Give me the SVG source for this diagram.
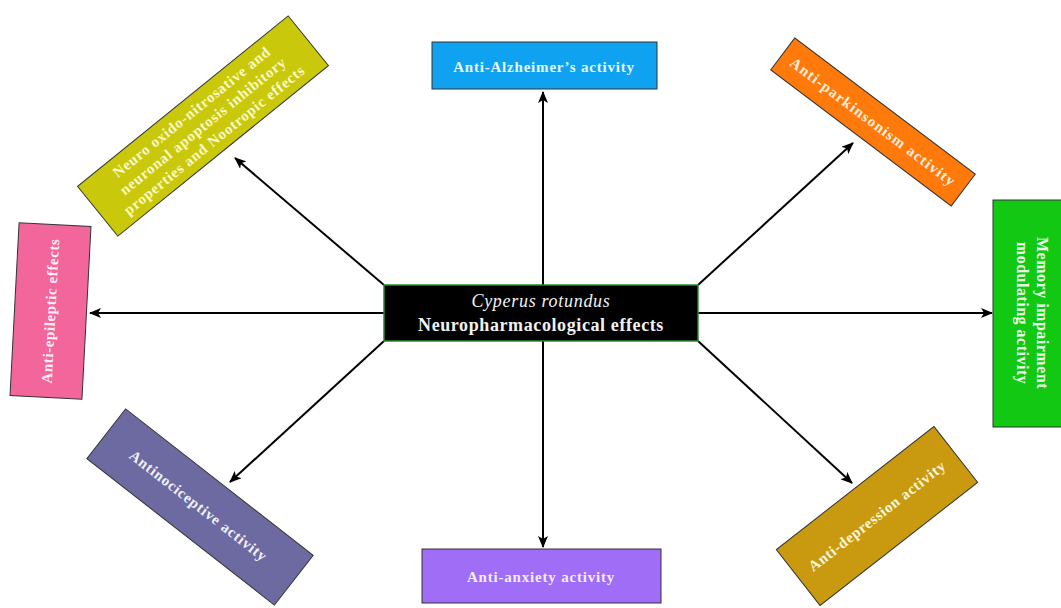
<svg xmlns="http://www.w3.org/2000/svg" width="1061" height="608" viewBox="0 0 1061 608">
<defs>
<marker id="ah" markerUnits="userSpaceOnUse" markerWidth="12" markerHeight="10" refX="11" refY="5" orient="auto">
<path d="M0,0 L12,5 L0,10 L3,5 Z" fill="#000"/>
</marker>
<style>
.box{stroke:#333;stroke-width:1}
.t{font-family:"Liberation Serif","Times New Roman",serif;font-weight:bold;font-size:15px;fill:#fff;text-anchor:middle;letter-spacing:0.8px}
.c{stroke:#000;stroke-width:2;fill:none;marker-end:url(#ah)}
</style>
</defs>
<rect width="1061" height="608" fill="#fff"/>
<g id="connectors">
<line class="c" x1="543" y1="285" x2="543" y2="92"/>
<line class="c" x1="543" y1="341" x2="543" y2="547"/>
<line class="c" x1="698" y1="313" x2="992" y2="313"/>
<line class="c" x1="384" y1="313" x2="90" y2="313"/>
<line class="c" x1="384" y1="285" x2="235" y2="158"/>
<line class="c" x1="698" y1="285" x2="853" y2="143"/>
<line class="c" x1="384" y1="341" x2="230" y2="482"/>
<line class="c" x1="698" y1="341" x2="852" y2="483"/>
</g>
<g id="center">
<rect x="384" y="285" width="314" height="56" fill="#000" stroke="#2a8a2a" stroke-width="1.5"/>
<text x="541" y="307" class="t" style="font-size:18px;font-weight:normal;font-style:italic;fill:#f2f2f2;letter-spacing:0.7px">Cyperus rotundus</text>
<text x="541" y="331" class="t" style="font-size:18px;fill:#f2f2f2;letter-spacing:0.6px">Neuropharmacological effects</text>
</g>
<g id="alzheimer">
<rect class="box" x="432" y="42" width="225" height="47" fill="#0ea2f0"/>
<text x="544" y="72" class="t" style="fill:#e8f6ff">Anti-Alzheimer’s activity</text>
</g>
<g id="anxiety">
<rect class="box" x="422" y="549" width="239" height="54" fill="#9f6df6"/>
<text x="541" y="582" class="t" style="fill:#f3ecff">Anti-anxiety activity</text>
</g>
<g id="memory">
<rect class="box" x="993" y="200" width="77" height="227" fill="#12c812"/>
<g transform="translate(1032,313) rotate(90)">
<text x="0" y="-5" class="t" style="font-size:16px;fill:#eaffea;letter-spacing:0.5px">Memory impairment</text>
<text x="0" y="15" class="t" style="font-size:16px;fill:#eaffea;letter-spacing:0.5px">modulating activity</text>
</g>
</g>
<g id="epileptic" transform="translate(50.5,311) rotate(3)">
<rect class="box" x="-36" y="-86.5" width="72" height="173" fill="#f2669b"/>
<text x="0" y="5" class="t" transform="rotate(-90)" style="fill:#ffeef5;letter-spacing:0.6px">Anti-epileptic effects</text>
</g>
<g id="neuro" transform="translate(203,126) rotate(-39)">
<rect class="box" x="-135.5" y="-32" width="271" height="64" fill="#c9c80a"/>
<text x="0" y="-13" class="t" style="fill:#fbf8c8;letter-spacing:0.7px">Neuro oxido-nitrosative and</text>
<text x="0" y="5" class="t" style="fill:#fbf8c8;letter-spacing:0.7px">neuronal apoptosis inhibitory</text>
<text x="0" y="23" class="t" style="fill:#fbf8c8;letter-spacing:0.7px">properties and Nootropic effects</text>
</g>
<g id="parkinsonism" transform="translate(873,122) rotate(37)">
<rect class="box" x="-113" y="-20" width="226" height="40" fill="#ff7a0a"/>
<text x="0" y="5" class="t" style="fill:#ffeedd;letter-spacing:1.2px">Anti-parkinsonism  activity</text>
</g>
<g id="antinociceptive" transform="translate(200,507) rotate(38)">
<rect class="box" x="-119" y="-31.5" width="238" height="63" fill="#6c6aa0"/>
<text x="-2" y="5" class="t" style="fill:#f0f0ff">Antinociceptive activity</text>
</g>
<g id="depression" transform="translate(877,516) rotate(-38)">
<rect class="box" x="-100" y="-35.5" width="200" height="71" fill="#c99a10"/>
<text x="0" y="5" class="t" style="fill:#fff6dc;letter-spacing:0.7px">Anti-depression  activity</text>
</g>
</svg>
